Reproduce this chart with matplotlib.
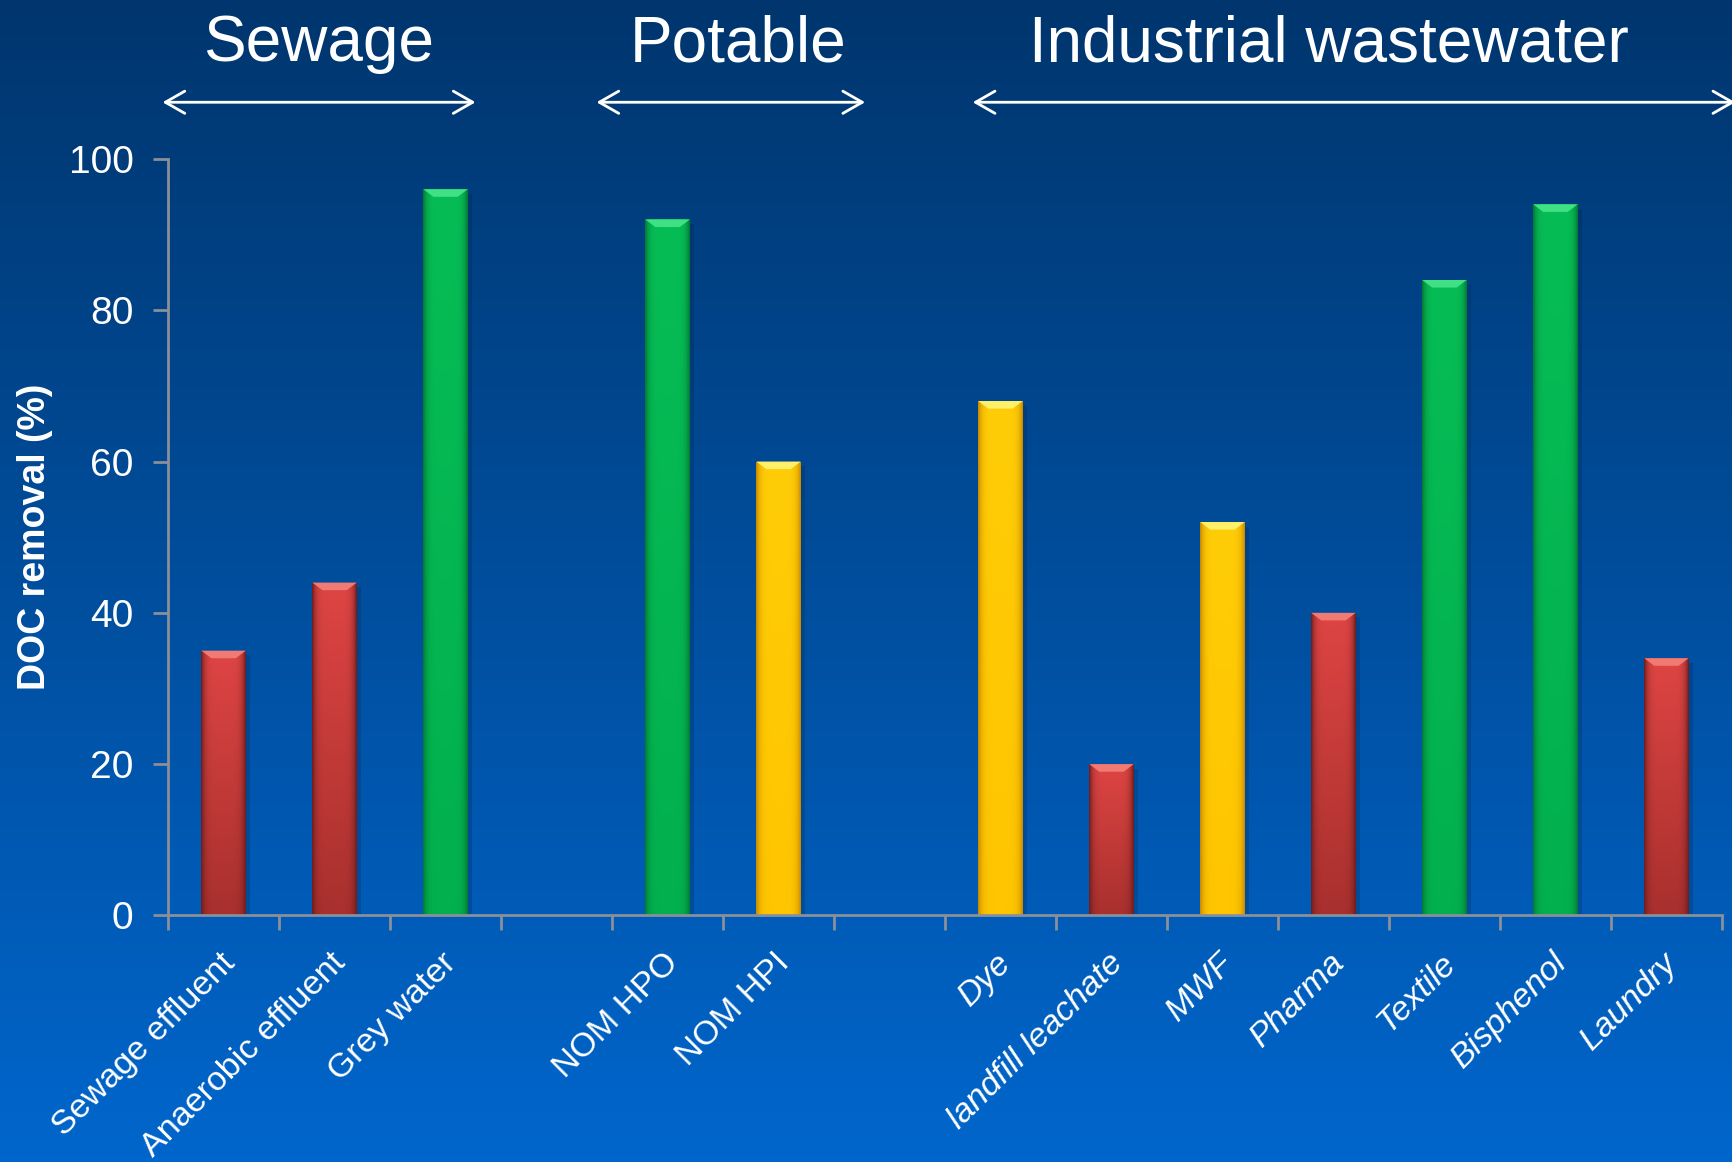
import numpy as np
import matplotlib
matplotlib.use("Agg")
import matplotlib.pyplot as plt
from matplotlib.colors import to_rgb
from matplotlib.patches import Polygon

plt.rcParams["font.family"] = ["Liberation Sans", "DejaVu Sans"]

# one slot per category; empty strings leave a gap between the groups
categories = ["Sewage effluent", "Anaerobic effluent", "Grey water", "",
              "NOM HPO", "NOM HPI", "",
              "Dye", "landfill leachate", "MWF", "Pharma", "Textile", "Bisphenol", "Laundry"]
removal = [35, 44, 96, None, 92, 60, None, 68, 20, 52, 40, 84, 94, 34]
rating = ["red", "red", "green", None, "green", "yellow", None,
          "yellow", "red", "yellow", "red", "green", "green", "red"]
italic_from = 7

groups = ["Sewage", "Potable", "Industrial wastewater"]
group_span = [(-0.55, 2.27), (3.36, 5.78), (6.75, 13.62)]
group_label_x = [0.86, 4.64, 9.96]

# (top colour, bottom colour, edge colour, bevel colour)
PALETTE = {
    "red": ("#de4543", "#a8302e", "#6e1d1d", "#f07a74"),
    "green": ("#06bd55", "#02b04e", "#037a35", "#3fe184"),
    "yellow": ("#ffcd07", "#fec500", "#c98a00", "#fff06a"),
}

W, H = 1733, 1162
fig = plt.figure(figsize=(W / 100, H / 100), dpi=100)

# background gradient
bg = fig.add_axes([0, 0, 1, 1], zorder=-10)
top, bottom = np.array([0.0, 0.21, 0.43]), np.array([0.0, 0.40, 0.80])
t = np.linspace(0, 1, 256)[:, None]
bg.imshow((top + (bottom - top) * t)[:, None, :].repeat(4, axis=1), aspect="auto",
          extent=(0, 1, 0, 1))
bg.set_axis_off()

ax = fig.add_axes([0.097, 0.2122, 0.8966, 0.651])
ax.patch.set_alpha(0)

x = np.arange(len(categories))
bw = 0.4
nx, ny = 60, 200
xs = np.linspace(-1, 1, nx)
for xi, v, r in zip(x, removal, rating):
    if v is None:
        continue
    c_top, c_bot, c_edge, c_bev = (np.array(to_rgb(c)) for c in PALETTE[r])
    # soft drop shadow
    ax.bar(xi + 0.04, v, bw, bottom=-0.6, color="#00254d", alpha=0.25, zorder=1, lw=0)
    bar = ax.bar(xi, v, bw, color="none", lw=0, zorder=2)[0]
    vert = np.linspace(1, 0, ny)[:, None, None]
    base = c_bot + (c_top - c_bot) * vert
    edge = (np.abs(xs) ** 6)[None, :, None]
    img = base * (1 - edge) + c_edge * edge
    im = ax.imshow(np.broadcast_to(img, (ny, nx, 3)), extent=(xi - bw / 2, xi + bw / 2, 0, v),
                   aspect="auto", zorder=2, interpolation="bilinear")
    im.set_clip_path(bar)
    bev = 1.0
    ax.add_patch(Polygon([(xi - bw / 2, v), (xi + bw / 2, v),
                          (xi + bw / 2 - 0.09, v - bev), (xi - bw / 2 + 0.09, v - bev)],
                         closed=True, color=c_bev, lw=0, zorder=3))

ax.set_xlim(-0.5, len(categories) - 0.5)
ax.set_ylim(0, 100)
ax.set_yticks(range(0, 101, 20))
ax.set_xticks(np.arange(-0.5, len(categories), 1.0))
ax.set_xticklabels([])
spine_c = "#8a8f99"
for s in ("top", "right"):
    ax.spines[s].set_visible(False)
for s in ("left", "bottom"):
    ax.spines[s].set_color(spine_c)
    ax.spines[s].set_linewidth(2)
ax.tick_params(axis="both", colors=spine_c, width=2, length=11, direction="out")
ax.tick_params(axis="y", labelcolor="white", labelsize=28, pad=14)

for i, lab in enumerate(categories):
    if not lab:
        continue
    ax.text(i - 0.04, -0.042, lab, transform=ax.get_xaxis_transform(),
            rotation=45, rotation_mode="anchor", ha="right", va="top",
            fontsize=24.5, color="white",
            style="italic" if i >= italic_from else "normal")

ax.set_ylabel("DOC removal (%)", color="white", fontsize=27, fontweight="bold", labelpad=11)

# group headers with double arrows
label_y, arrow_y = 0.962, 0.912
tr = matplotlib.transforms.blended_transform_factory(ax.transData, fig.transFigure)
for name, (a, b), lx in zip(groups, group_span, group_label_x):
    ax.annotate("", xy=(a, arrow_y), xytext=(b, arrow_y), xycoords=tr, textcoords=tr,
                arrowprops=dict(arrowstyle="<->,head_length=0.7,head_width=0.4",
                                color="white", lw=2, mutation_scale=20,
                                shrinkA=0, shrinkB=0), annotation_clip=False)
    ax.text(lx, label_y, name, transform=tr, ha="center", va="center",
            fontsize=46, color="white")

fig.savefig("out.png", dpi=100)
